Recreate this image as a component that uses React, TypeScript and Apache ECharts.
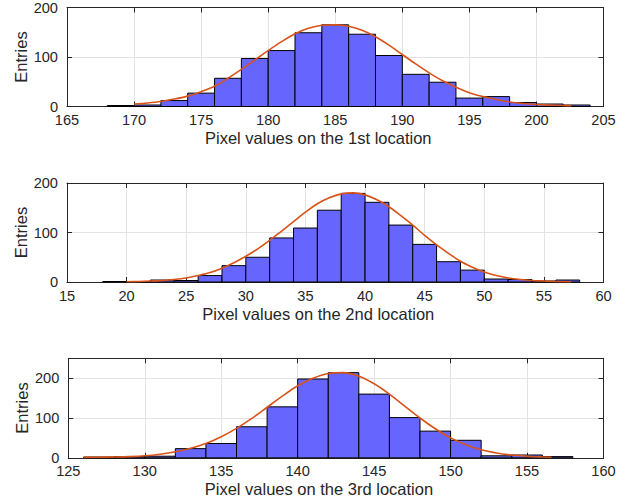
import React, { useEffect, useRef } from "react";
import * as echarts from "echarts";

// ---------- data ----------
const edges1 = [168, 170, 172, 174, 176, 178, 180, 182, 184, 186, 188, 190, 192, 194, 196, 198, 200, 202, 204];
const counts1 = [2, 3, 12, 27, 57, 97, 113, 149, 165, 146, 103, 65, 49, 17, 20, 8, 5, 3];
const fitX1 = [170, 171, 172, 173, 174, 175, 176, 177, 178, 179, 180, 181, 182, 183, 184, 185, 186, 187, 188, 189, 190, 191, 192, 193, 194, 195, 196, 197, 198, 199, 200, 201, 202, 202.6];
const fitY1 = [5, 7, 10, 15, 21, 30, 41, 57, 75, 94, 113, 131, 147, 158, 164, 165, 162, 154, 141, 124, 105, 86, 68, 52, 39, 28, 20, 14, 9, 6, 4, 3, 2, 1.5];

const edges2 = [18, 20, 22, 24, 26, 28, 30, 32, 34, 36, 38, 40, 42, 44, 46, 48, 50, 52, 54, 56, 58];
const counts2 = [1, 1, 4, 3, 13, 33, 50, 89, 109, 145, 179, 161, 115, 76, 41, 24, 6, 5, 2, 4];
const fitX2 = [20, 21, 22, 23, 24, 25, 26, 27, 28, 29, 30, 31, 32, 33, 34, 35, 36, 37, 38, 39, 40, 41, 42, 43, 44, 45, 46, 47, 48, 49, 50, 51, 52, 53, 54, 55, 56, 57.3];
const fitY2 = [0.5, 1, 2, 3, 5, 8, 13, 19, 28, 39, 52, 67, 84, 103, 122, 141, 158, 170, 178, 180, 176, 166, 152, 134, 115, 94, 75, 58, 42, 30, 20, 13, 8, 5, 3, 2, 1, 0.5];

const edges3 = [126, 128, 130, 132, 134, 136, 138, 140, 142, 144, 146, 148, 150, 152, 154, 156, 158];
const counts3 = [2, 3, 4, 23, 36, 78, 128, 198, 214, 160, 101, 67, 44, 5, 7, 3];
const fitX3 = [126, 127, 128, 129, 130, 131, 132, 133, 134, 135, 136, 137, 138, 139, 140, 141, 142, 143, 144, 145, 146, 147, 148, 149, 150, 151, 152, 153, 154, 155, 156, 156.6];
const fitY3 = [1, 1.5, 2, 3, 5, 9, 15, 24, 36, 53, 74, 99, 127, 155, 181, 200, 212, 214, 205, 186, 160, 130, 100, 73, 50, 33, 20, 12, 7, 4, 2, 1.5];

const xLabels = [
  "Pixel values on the 1st location",
  "Pixel values on the 2nd location",
  "Pixel values on the 3rd location",
];
const xRanges = [
  [165, 205],
  [15, 60],
  [125, 160],
];
const yMaxes = [200, 200, 250];
const yTickStep = 100;
const xTickStep = 5;
const yName = "Entries";

// ---------- styling ----------
const FONT = "Liberation Sans, Arial, Helvetica, sans-serif";
const AX = "#262626";
const GRIDC = "#e3e3e3";
const BAR = "#6666FF";
const FIT = "#D95319";

const grids = [
  { left: 67, right: 30.5, top: 6, height: 100.5 },
  { left: 67, right: 30.5, top: 183, height: 99 },
  { left: 68.3, right: 30.5, top: 358.3, height: 99.5 },
];

export default function App() {
  const ref = useRef<HTMLDivElement>(null);
  useEffect(() => {
    document.body.style.margin = "0";
    const chart = echarts.init(ref.current!, undefined, { renderer: "svg" });
    const allEdges = [edges1, edges2, edges3];
    const allCounts = [counts1, counts2, counts3];
    const allFitX = [fitX1, fitX2, fitX3];
    const allFitY = [fitY1, fitY2, fitY3];

    const xAxis: any[] = [];
    const yAxis: any[] = [];
    const series: any[] = [];
    for (let g = 0; g < 3; g++) {
      const [xmin, xmax] = xRanges[g];
      const ymax = yMaxes[g];
      xAxis.push({
        type: "value",
        gridIndex: g,
        min: xmin,
        max: xmax,
        interval: xTickStep,
        position: "bottom",
        name: xLabels[g],
        nameLocation: "middle",
        nameGap: 23,
        nameMoveOverlap: false,
        nameTextStyle: { fontFamily: FONT, fontSize: 16.5, color: AX, padding: [0, 34, 0, 0] },
        axisLine: { show: true, onZero: false, lineStyle: { color: AX, width: 1 } },
        axisTick: { show: true, inside: true, length: 5, lineStyle: { color: AX } },
        axisLabel: { show: true, margin: 6, fontFamily: FONT, fontSize: 14.6, color: AX, hideOverlap: false },
        splitLine: { show: true, lineStyle: { color: GRIDC, width: 1 } },
      });
      xAxis.push({
        type: "value",
        gridIndex: g,
        min: xmin,
        max: xmax,
        interval: xTickStep,
        position: "top",
        axisLine: { show: true, onZero: false, lineStyle: { color: AX, width: 1 } },
        axisTick: { show: true, inside: true, length: 5, lineStyle: { color: AX } },
        axisLabel: { show: false },
        splitLine: { show: false },
      });
      yAxis.push({
        type: "value",
        gridIndex: g,
        min: 0,
        max: ymax,
        interval: yTickStep,
        position: "left",
        name: yName,
        nameLocation: "middle",
        nameGap: 38,
        nameMoveOverlap: false,
        nameTextStyle: { fontFamily: FONT, fontSize: 16.5, color: AX },
        axisLine: { show: true, onZero: false, lineStyle: { color: AX, width: 1 } },
        axisTick: { show: true, inside: true, length: 5, lineStyle: { color: AX } },
        axisLabel: {
          show: true,
          margin: 9,
          fontFamily: FONT,
          fontSize: 14.6,
          color: AX,
          formatter: (v: number) => (v % yTickStep === 0 ? String(v) : ""),
        },
        splitLine: { show: true, lineStyle: { color: GRIDC, width: 1 } },
      });
      yAxis.push({
        type: "value",
        gridIndex: g,
        min: 0,
        max: ymax,
        interval: yTickStep,
        position: "right",
        axisLine: { show: true, onZero: false, lineStyle: { color: AX, width: 1 } },
        axisTick: { show: true, inside: true, length: 5, lineStyle: { color: AX } },
        axisLabel: { show: false },
        splitLine: { show: false },
      });

      const edges = allEdges[g];
      const counts = allCounts[g];
      const histData = counts.map((c, i) => [edges[i], edges[i + 1], c]);
      series.push({
        type: "custom",
        xAxisIndex: 2 * g,
        yAxisIndex: 2 * g,
        data: histData,
        encode: { x: [0, 1], y: 2 },
        renderItem: (params: any, api: any) => {
          const p0 = api.coord([api.value(0), api.value(2)]);
          const p1 = api.coord([api.value(1), 0]);
          return {
            type: "rect",
            shape: { x: p0[0], y: p0[1], width: p1[0] - p0[0], height: p1[1] - p0[1] },
            style: { fill: BAR, stroke: "#000000", lineWidth: 1 },
          };
        },
        z: 2,
      });
      series.push({
        type: "line",
        xAxisIndex: 2 * g,
        yAxisIndex: 2 * g,
        data: allFitX[g].map((x, i) => [x, allFitY[g][i]]),
        smooth: 0.3,
        showSymbol: false,
        symbol: "none",
        lineStyle: { color: FIT, width: 1.6 },
        z: 3,
      });
    }

    chart.setOption({
      animation: false,
      backgroundColor: "#ffffff",
      grid: grids.map((gr) => ({ ...gr, containLabel: false })),
      xAxis,
      yAxis,
      series,
    });
    return () => chart.dispose();
  }, []);
  return <div ref={ref} style={{ width: 634, height: 504 }} />;
}
